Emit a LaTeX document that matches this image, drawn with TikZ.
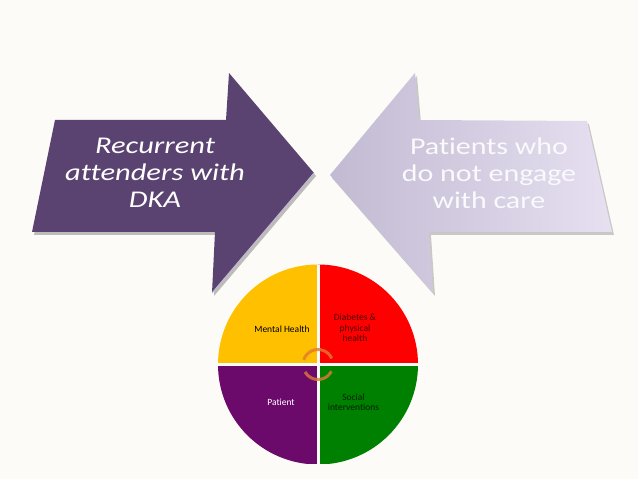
\documentclass[tikz,border=0pt]{standalone}
\usepackage{fontspec}
\setmainfont[Ligatures=NoCommon]{Carlito}
\usepackage{tikz}

\definecolor{bgpaper}{HTML}{FDFBF8}
\definecolor{darkarrow}{HTML}{5A4371}
\definecolor{lightarrowA}{HTML}{C2BAD2}
\definecolor{lightarrowB}{HTML}{E6E0F1}
\definecolor{qyellow}{HTML}{FFC000}
\definecolor{qred}{HTML}{FF0000}
\definecolor{qpurple}{HTML}{6C0A6C}
\definecolor{qgreen}{HTML}{008000}
\definecolor{cycleorange}{HTML}{E07A34}

\begin{document}
\begin{tikzpicture}[x=1pt, y=1pt,
                    bigtext/.style = {align=center, text=white, font=\fontsize{24}{27}\selectfont},
                    smalltext/.style = {align=center, font=\fontsize{9.5}{10.5}\selectfont}
                ]
                    \fill[bgpaper] (0,0) rectangle (638,479);
                    \useasboundingbox (0,0) rectangle (638,479);

                    % left arrow
                    \fill[black, opacity=0.25] (57,356) -- (228,356) -- (231,403) -- (316,303) -- (214,183) -- (217,244) -- (34,244) -- cycle;
                    \fill[darkarrow] (55,359) -- (226,359) -- (229,406) -- (314,306) -- (212,186) -- (215,247) -- (32,247) -- cycle;
                    \draw[lightarrowA, line width=1pt] (314,306) -- (212,186);

                    % right arrow
                    \fill[black, opacity=0.2] (332,301) -- (417,403) -- (421,356) -- (589,355) -- (614,244) -- (431,244) -- (435,183) -- cycle;
                    \shade[left color=lightarrowA, right color=lightarrowB] (330,304) -- (415,406) -- (419,359) -- (587,358) -- (612,247) -- (429,247) -- (433,186) -- cycle;

                    \node[bigtext, font=\fontsize{24}{27}\selectfont\itshape, xscale=1.27] (recurrent) at (155,306) {Recurrent\\attenders with\\DKA};
                    \node[bigtext, text=white!92!lightarrowA, xscale=1.25] (engage) at (489,306) {Patients who\\do not engage\\with care};

                    % circle of four parts
                    \begin{scope}
                        \clip (318,114.5) circle (100);
                        \fill[qyellow] (218,114.5) rectangle (318,214.5);
                        \fill[qred] (318,114.5) rectangle (418,214.5);
                        \fill[qpurple] (218,14.5) rectangle (318,114.5);
                        \fill[qgreen] (318,14.5) rectangle (418,114.5);
                        \draw[bgpaper, line width=3pt] (318,10) -- (318,220);
                        \draw[bgpaper, line width=3pt] (212,114.5) -- (424,114.5);
                    \end{scope}

                    \coordinate (hub) at (318,114.5);
                    \draw[cycleorange, opacity=0.8, line width=3pt] ([shift={(24:15)}]hub) arc[start angle=24, end angle=162, radius=15];
                    \draw[cycleorange, opacity=0.8, line width=3pt] ([shift={(-27:15)}]hub) arc[start angle=-27, end angle=-150, radius=15];

                    \node[smalltext] (mental) at (282,150) {Mental Health};
                    \node[smalltext, text=black!70!qred] (diabetes) at (355,151) {Diabetes \&\\physical\\health};
                    \node[smalltext, text=white] (patient) at (281,77) {Patient};
                    \node[smalltext, text=black!75!qgreen] (social) at (353.5,77) {Social\\interventions};
                \end{tikzpicture}
\end{document}
